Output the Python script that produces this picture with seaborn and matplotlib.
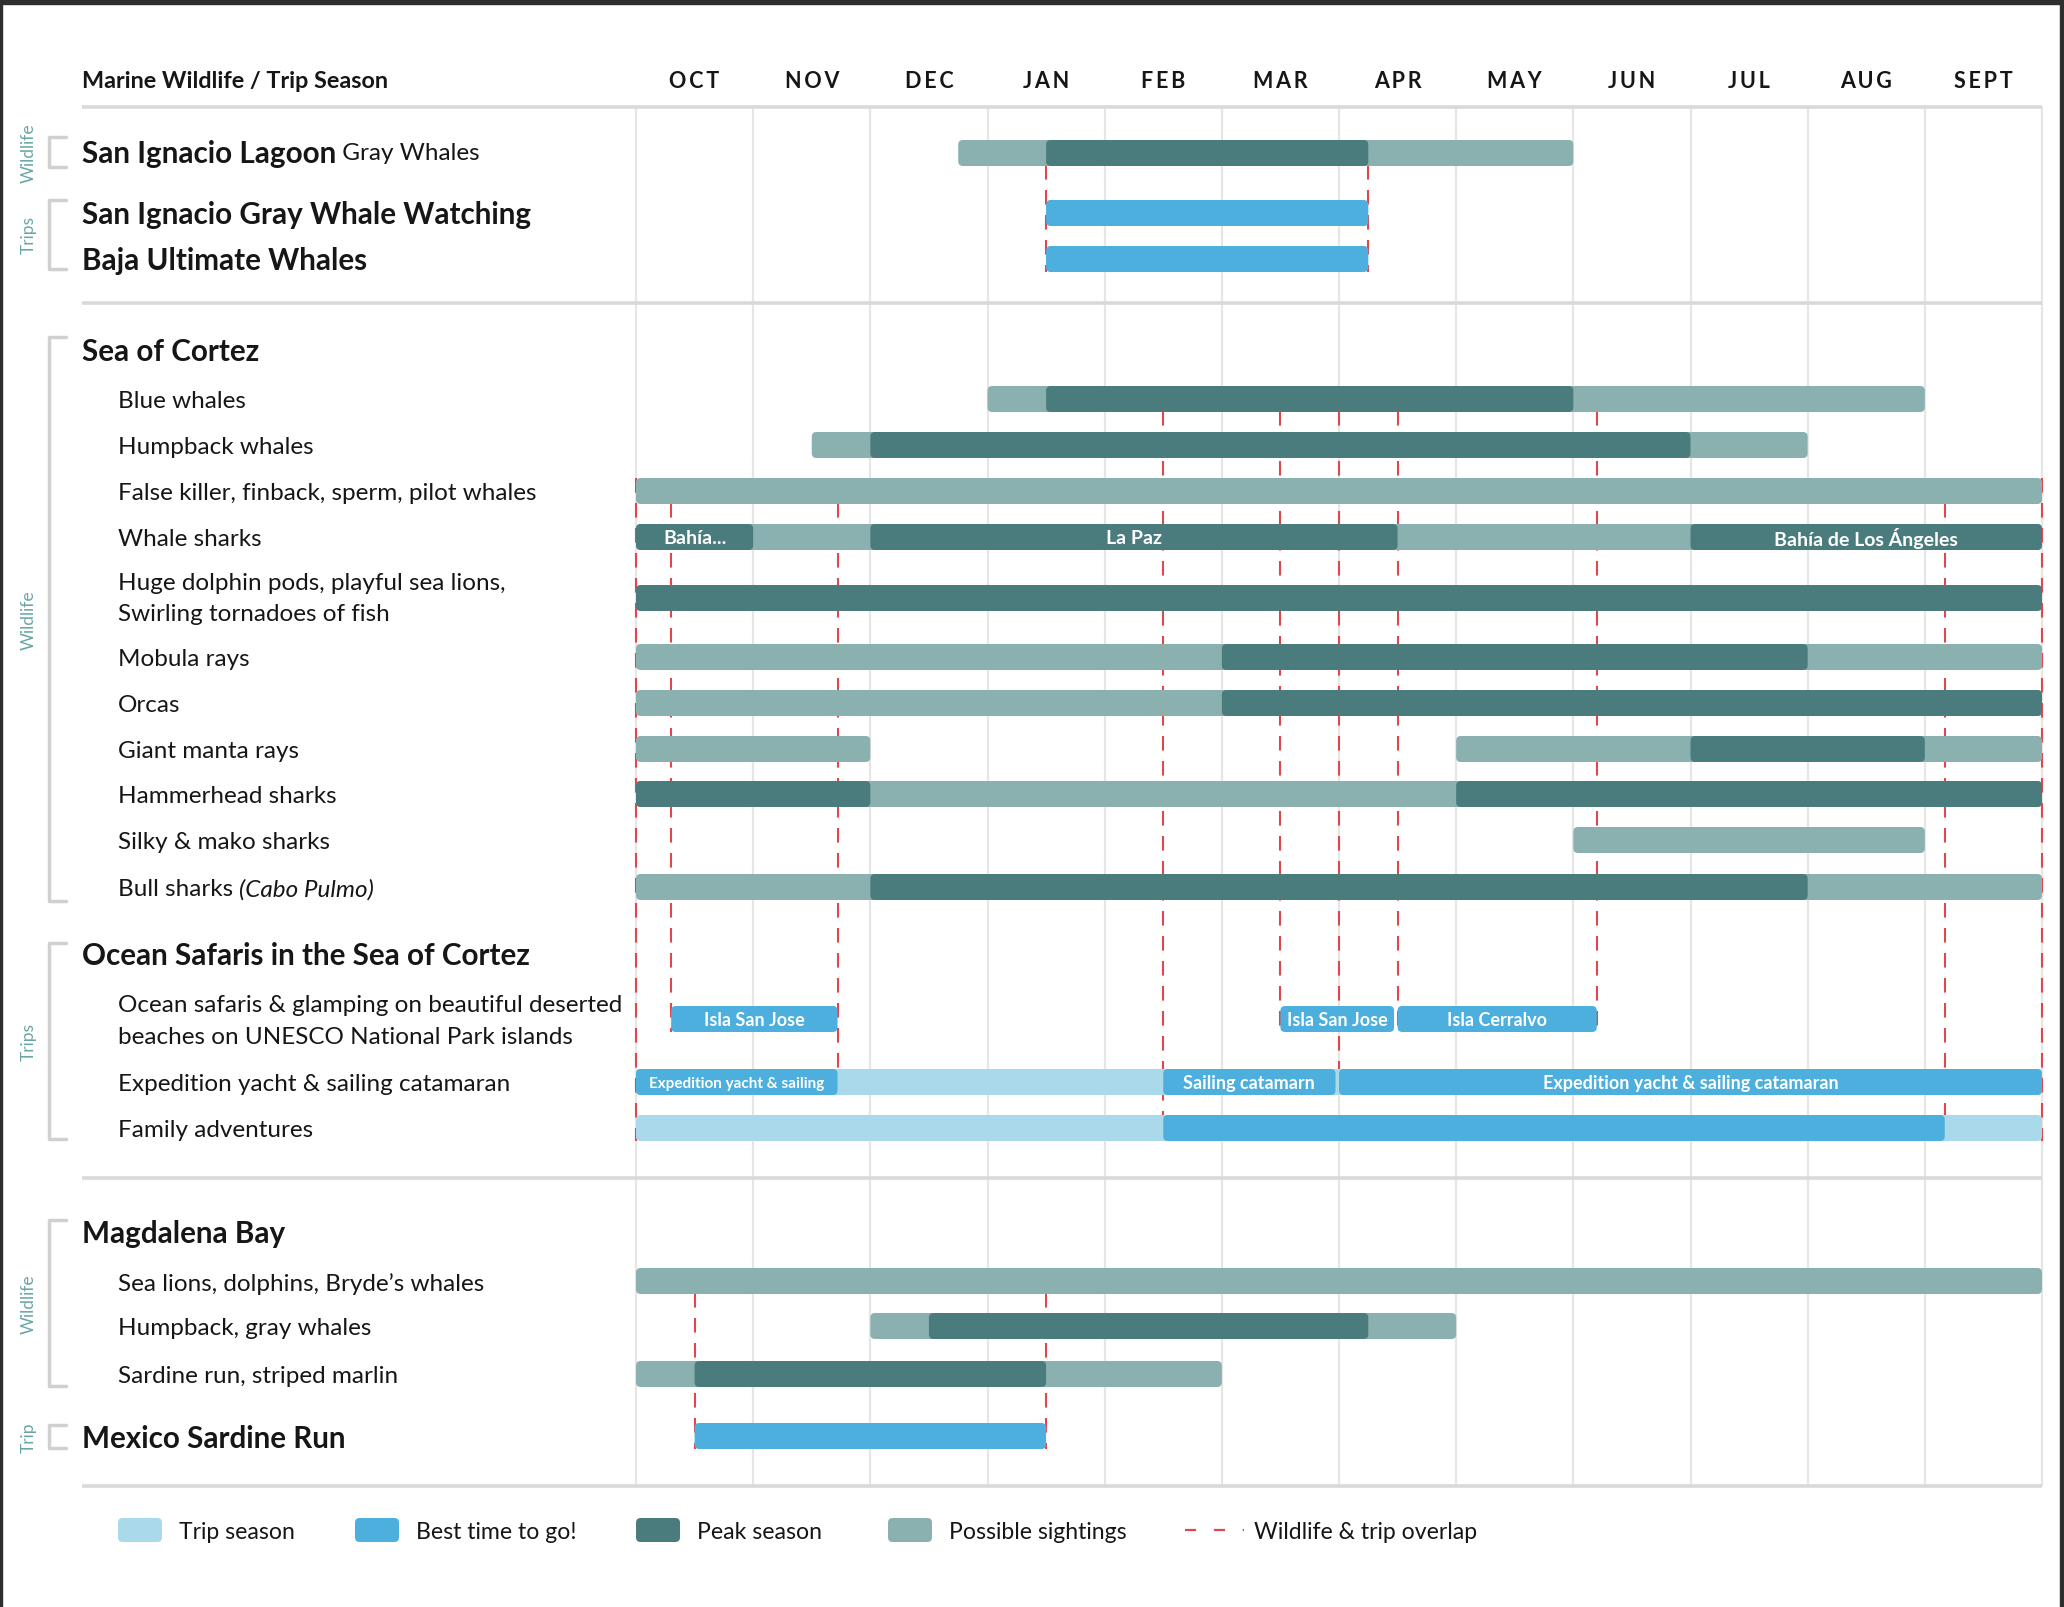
import matplotlib
matplotlib.use("Agg")
import matplotlib.pyplot as plt
import seaborn as sns
from matplotlib.patches import FancyBboxPatch, Rectangle

sns.set_theme(style="white")
plt.rcParams['font.family'] = ['Lato', 'DejaVu Sans']

# ---- Data (months counted from 1 Oct) ----
months = ['OCT', 'NOV', 'DEC', 'JAN', 'FEB', 'MAR', 'APR', 'MAY', 'JUN', 'JUL', 'AUG', 'SEPT']

# (start, end, kind, label)
san_ignacio_lagoon = [(2.75, 8.0, 'possible', ''), (3.5, 6.25, 'peak', '')]
gray_whale_watching = [(3.5, 6.25, 'best', '')]
baja_ultimate_whales = [(3.5, 6.25, 'best', '')]

blue_whales = [(3.0, 11.0, 'possible', ''), (3.5, 8.0, 'peak', '')]
humpback_whales = [(1.5, 10.0, 'possible', ''), (2.0, 9.0, 'peak', '')]
false_killer = [(0, 12, 'possible', '')]
whale_sharks = [(0, 12, 'possible', ''), (0, 1.0, 'peak', 'Bahía...'),
                (2.0, 6.5, 'peak', 'La Paz'), (9.0, 12, 'peak', 'Bahía de Los Ángeles')]
dolphins = [(0, 12, 'peak', '')]
mobula_rays = [(0, 12, 'possible', ''), (5.0, 10.0, 'peak', '')]
orcas = [(0, 12, 'possible', ''), (5.0, 12, 'peak', '')]
manta_rays = [(0, 2.0, 'possible', ''), (7.0, 12, 'possible', ''), (9.0, 11.0, 'peak', '')]
hammerheads = [(0, 12, 'possible', ''), (0, 2.0, 'peak', ''), (7.0, 12, 'peak', '')]
silky_mako = [(8.0, 11.0, 'possible', '')]
bull_sharks = [(0, 12, 'possible', ''), (2.0, 10.0, 'peak', '')]

glamping = [(0.3, 1.72, 'best', 'Isla San Jose'), (5.5, 6.47, 'best', 'Isla San Jose'),
            (6.5, 8.2, 'best', 'Isla Cerralvo')]
expedition = [(0, 12, 'season', ''), (0, 1.72, 'best', 'Expedition yacht & sailing'),
              (4.5, 5.97, 'best', 'Sailing catamarn'),
              (6.0, 12, 'best', 'Expedition yacht & sailing catamaran')]
family = [(0, 12, 'season', ''), (4.5, 11.17, 'best', '')]

mag_sea_lions = [(0, 12, 'possible', '')]
mag_humpback_gray = [(2.0, 7.0, 'possible', ''), (2.5, 6.25, 'peak', '')]
mag_sardine = [(0, 5.0, 'possible', ''), (0.5, 3.5, 'peak', '')]
sardine_run_trip = [(0.5, 3.5, 'best', '')]

# wildlife & trip overlap markers: (month, first row, last row)
overlap_lines = [
    (3.5, 'lagoon', 'ultimate'), (6.25, 'lagoon', 'ultimate'),
    (0.0, 'false_killer', 'family'), (0.3, 'false_killer', 'glamping'),
    (1.72, 'false_killer', 'expedition'), (4.5, 'blue', 'family'),
    (5.5, 'blue', 'glamping'), (6.0, 'blue', 'expedition'), (6.5, 'blue', 'glamping'),
    (8.2, 'blue', 'glamping'), (11.17, 'false_killer', 'family'), (12.0, 'false_killer', 'family'),
    (0.5, 'sea_lions', 'sardine_trip'), (3.5, 'sea_lions', 'sardine_trip'),
]

colors = {'possible': '#8ab1b0', 'peak': '#4a7c7e', 'best': '#4cafdd', 'season': '#a9d9eb'}
RED = '#e0474c'
TEAL_TXT = '#6aa6a6'
INK = '#161616'

# ---- Layout (pixels) ----
W, H = 2064, 1608
X0, X1 = 636, 2042
MW = (X1 - X0) / 12.0
BAR_H = 26
DY = 2  # text baseline nudge


def m(px):
    return (px - X0) / MW


# key: (y, segments)
rows = {
    'lagoon': (154, san_ignacio_lagoon), 'watching': (214, gray_whale_watching),
    'ultimate': (260, baja_ultimate_whales),
    'blue': (400, blue_whales), 'humpback': (446, humpback_whales),
    'false_killer': (492, false_killer), 'whale_sharks': (538, whale_sharks),
    'dolphins': (599, dolphins), 'mobula': (658, mobula_rays), 'orcas': (704, orcas),
    'manta': (750, manta_rays), 'hammer': (795, hammerheads), 'silky': (841, silky_mako),
    'bull': (888, bull_sharks), 'glamping': (1020, glamping), 'expedition': (1083, expedition),
    'family': (1129, family), 'sea_lions': (1282, mag_sea_lions),
    'mag_humpback': (1327, mag_humpback_gray), 'mag_sardine': (1375, mag_sardine),
    'sardine_trip': (1437, sardine_run_trip),
}

fig = plt.figure(figsize=(W / 100, H / 100), dpi=100)
fig.patch.set_facecolor('white')
ax = fig.add_axes([0, 0, 1, 1])
ax.set_xlim(m(0), m(W))
ax.set_ylim(H, 0)
ax.axis('off')

# frame of the screenshot
fig.patches.append(Rectangle((0, 1 - 5 / H), 1, 5 / H, transform=fig.transFigure, color='#2e2e2e'))
fig.patches.append(Rectangle((0, 0), 2 / W, 1, transform=fig.transFigure, color='#2e2e2e'))
fig.patches.append(Rectangle((1 - 4 / W, 0), 4 / W, 1, transform=fig.transFigure, color='#2e2e2e'))

# month grid
for i in range(13):
    ax.vlines(i, 108, 1487, color='#e6e6e6', lw=1.6, zorder=0)
for y in [108, 304, 1179, 1487]:
    ax.hlines(y, m(82), 12, color='#d9d9d9', lw=2.6, zorder=1)

# header
ax.text(m(82), 79 + DY, 'Marine Wildlife / Trip Season', fontsize=16.8, fontweight='bold',
        color=INK, va='center')
for i, name in enumerate(months):
    ax.text(i + 0.5, 79 + DY, '\u2009'.join(name), fontsize=15.5, fontweight='bold', color=INK,
            ha='center', va='center')

# overlap dashed lines (behind bars)
for x, r0, r1 in overlap_lines:
    ax.vlines(x, rows[r0][0] - BAR_H / 2, rows[r1][0] + BAR_H / 2, color=RED, lw=1.5,
              linestyles=(0, (7, 5)), zorder=1)

# bars
for key, (y, segs) in rows.items():
    for s, e, kind, label in segs:
        box = FancyBboxPatch((s, y - BAR_H / 2), e - s, BAR_H,
                             boxstyle='round,pad=0,rounding_size=0.04', mutation_aspect=MW,
                             facecolor=colors[kind], edgecolor='none', zorder=2)
        ax.add_patch(box)
        if label:
            if label == 'Expedition yacht & sailing':
                fs = 11
            elif key == 'whale_sharks':
                fs = 14
            else:
                fs = 13
            ax.text((s + e) / 2, y + 1, label, fontsize=fs, fontweight='bold', color='white',
                    ha='center', va='center', zorder=3)

renderer = fig.canvas.get_renderer()


def text_run(x, y, parts):
    for s, kw in parts:
        t = ax.text(x, y, s, va='center', color=INK, **kw)
        bb = t.get_window_extent(renderer)
        x = ax.transData.inverted().transform((bb.x1, 0))[0]


TITLE = dict(fontsize=21.3, fontweight='bold')
ITEM = dict(fontsize=17.5)

text_run(m(82), 152 + DY, [('San Ignacio Lagoon', TITLE), (' Gray Whales', dict(fontsize=17.5))])
ax.text(m(82), 213 + DY, 'San Ignacio Gray Whale Watching', va='center', color=INK, **TITLE)
ax.text(m(82), 259 + DY, 'Baja Ultimate Whales', va='center', color=INK, **TITLE)
ax.text(m(82), 350 + DY, 'Sea of Cortez', va='center', color=INK, **TITLE)
ax.text(m(82), 954 + DY, 'Ocean Safaris in the Sea of Cortez', va='center', color=INK, **TITLE)
ax.text(m(82), 1232 + DY, 'Magdalena Bay', va='center', color=INK, **TITLE)
ax.text(m(82), 1437 + DY, 'Mexico Sardine Run', va='center', color=INK, **TITLE)

item_labels = [
    (400, 'Blue whales'), (446, 'Humpback whales'),
    (492, 'False killer, finback, sperm, pilot whales'), (538, 'Whale sharks'),
    (582, 'Huge dolphin pods, playful sea lions,'), (613, 'Swirling tornadoes of fish'),
    (658, 'Mobula rays'), (704, 'Orcas'), (750, 'Giant manta rays'),
    (795, 'Hammerhead sharks'), (841, 'Silky & mako sharks'),
    (1004, 'Ocean safaris & glamping on beautiful deserted'),
    (1036, 'beaches on UNESCO National Park islands'),
    (1083, 'Expedition yacht & sailing catamaran'), (1129, 'Family adventures'),
    (1282, 'Sea lions, dolphins, Bryde\u2019s whales'), (1327, 'Humpback, gray whales'),
    (1375, 'Sardine run, striped marlin'),
]
for y, s in item_labels:
    ax.text(m(118), y + DY, s, va='center', color=INK, **ITEM)
text_run(m(118), 888 + DY, [('Bull sharks ', ITEM), ('(Cabo Pulmo)', dict(fontsize=17.5, style='italic'))])

# side brackets
brackets = [(138, 168, 'Wildlife'), (201, 270, 'Trips'), (338, 902, 'Wildlife'),
            (944, 1140, 'Trips'), (1221, 1387, 'Wildlife'), (1426, 1449, 'Trip')]
for y0, y1, lab in brackets:
    ax.plot([m(66), m(49), m(49), m(66)], [y0, y0, y1, y1], color='#d0d0d0', lw=2.5,
            solid_joinstyle='round', zorder=1)
    ax.text(m(29), (y0 + y1) / 2, lab, rotation=90, fontsize=12.5, color=TEAL_TXT,
            ha='center', va='center')

# legend
legend_items = [('Trip season', 'season', 118), ('Best time to go!', 'best', 355),
                ('Peak season', 'peak', 636), ('Possible sightings', 'possible', 888)]
LY = 1531
for lab, kind, px in legend_items:
    ax.add_patch(FancyBboxPatch((m(px), LY - 12), 44 / MW, 24,
                                boxstyle='round,pad=0,rounding_size=0.04', mutation_aspect=MW,
                                facecolor=colors[kind], edgecolor='none'))
    ax.text(m(px + 61), LY + DY, lab, fontsize=16.6, color=INK, va='center')
ax.plot([m(1185), m(1244)], [LY, LY], color=RED, lw=1.6, linestyle=(0, (5, 8)))
ax.text(m(1254), LY + DY, 'Wildlife & trip overlap', fontsize=16.6, color=INK, va='center')

fig.savefig('out.png', dpi=100, facecolor='white')
